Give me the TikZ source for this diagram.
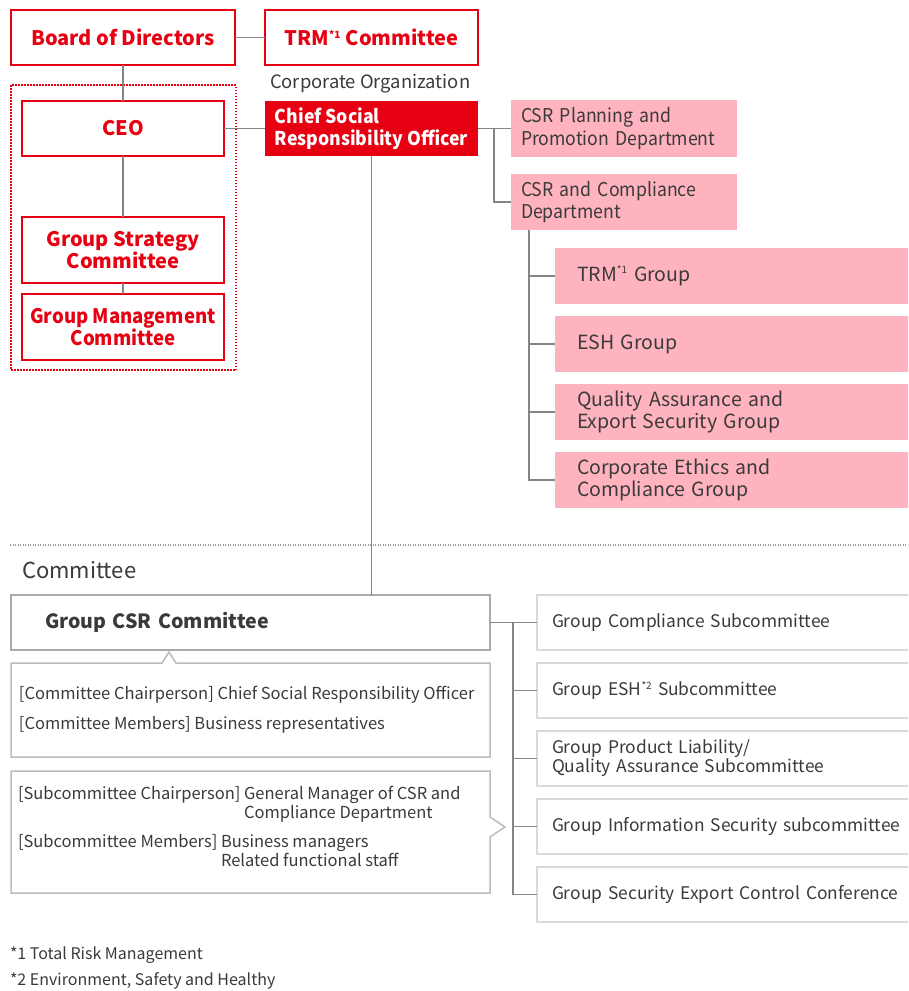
\documentclass[tikz,border=0pt]{standalone}
\usepackage{fontspec}
\setmainfont{Noto Sans CJK JP}
\newfontfamily\deptfont{Noto Sans CJK JP}[FakeStretch=0.93]
\usetikzlibrary{positioning}
\definecolor{csrred}{HTML}{E60012}
\definecolor{csrpink}{HTML}{FFB3BE}
\definecolor{csrtext}{HTML}{3A3A3A}
\definecolor{csrline}{HTML}{858585}
\definecolor{csrframe}{HTML}{AAAAAA}
\definecolor{csrlight}{HTML}{DADADA}
\hyphenpenalty=10000
\newcommand{\fs}[2]{\fontsize{#1}{#2}\selectfont}
\newcommand{\starnote}[1]{\textsuperscript{\fontsize{10}{10}\selectfont*#1}}

\begin{document}
\begin{tikzpicture}[x=1pt,y=-1pt,inner sep=0pt,outer sep=0pt,
                    line width=1.6pt,draw=csrline,text=csrtext]
  \tikzstyle{redbox}=[draw=csrred,line width=2.2pt,fill=white,text=csrred,
                      font=\bfseries\fs{20}{22},align=center,anchor=north west]
  \tikzstyle{officer}=[fill=csrred,text=white,font=\deptfont\bfseries\fs{19}{22},align=left,
                      anchor=north west]
  \tikzstyle{dept}=[fill=csrpink,font=\deptfont\fs{19}{22.5},align=left,anchor=north west,
                      inner xsep=10pt,text width=206pt]
  \tikzstyle{team}=[fill=csrpink,font=\fs{19.5}{22},align=left,anchor=north west,
                      inner xsep=22pt,text width=313pt,minimum height=56pt]
  \tikzstyle{subbox}=[draw=csrlight,line width=2pt,font=\fs{17.4}{19},align=left,
                      anchor=north west,inner xsep=15pt,text width=400pt,minimum height=55pt]
  \tikzstyle{link}=[draw=csrline,line width=1.6pt]
  \tikzstyle{note}=[font=\fs{16.5}{19},align=left,anchor=west]

  \useasboundingbox (0,0) rectangle (908,991);
  \clip (0,0) rectangle (908,991);

  \node[redbox,minimum width=224pt,minimum height=55pt] (board) at (11,10) {Board of Directors};
  \node[redbox,minimum width=213pt,minimum height=55pt] (trm)   at (265,10) {TRM\starnote{1} Committee};
  \node[redbox,minimum width=202pt,minimum height=55pt] (ceo)   at (22,101) {CEO};
  \node[redbox,minimum width=202pt,minimum height=66pt] (gsc)   at (22,217) {Group Strategy\\Committee};
  \node[redbox,minimum width=202pt,minimum height=66pt,font=\deptfont\bfseries\fs{20}{22}] (gmc) at (22,294) {Group Management\\Committee};
  \draw[csrred,line width=1.5pt,dash pattern=on 1.5pt off 1.5pt] (11,85) rectangle (236,370);

  \node[anchor=west,font=\fs{18.4}{20}] (corp) at (270,84) {Corporate Organization};
  \node[officer,minimum width=213pt,minimum height=55pt] (csro) at (265,101) {Chief Social\\Responsibility Officer};

  \node[dept,minimum height=57pt] (plan)  at (511,100) {CSR Planning and\\Promotion Department};
  \node[dept,minimum height=56pt] (compl) at (511,174) {CSR and Compliance\\Department};

  \node[team] (trmg)   at (555,248) {TRM\starnote{1} Group};
  \node[team] (eshg)   at (555,316) {ESH Group};
  \node[team] (qaesg)  at (555,384) {Quality Assurance and\\Export Security Group};
  \node[team] (ethics) at (555,452) {Corporate Ethics and\\Compliance Group};

  \draw[csrline!80,line width=1.2pt,dash pattern=on 1pt off 1.5pt] (10,545) -- (908,545);
  \node[anchor=west,font=\fs{22}{24}] (comlabel) at (22,570) {Committee};

  \node[draw=csrframe,line width=2.6pt,anchor=north west,inner xsep=34pt,text width=411pt,
        minimum height=55pt,font=\bfseries\fs{19.6}{22},align=left] (gcsr) at (11,595) {Group CSR Committee};

  \node[anchor=north west,minimum width=479pt,minimum height=94pt] (info) at (11,663) {};
  \node[anchor=north west,minimum width=479pt,minimum height=122pt] (subinfo) at (11,771) {};
  \draw[csrframe!80,line width=1.5pt] (info.north west) -- ++(151,0) -- ++(7,-11) -- ++(7,11)
        -- (info.north east) -- (info.south east) -- (info.south west) -- cycle;
  \draw[csrframe!80,line width=1.5pt] (subinfo.north west) -- (subinfo.north east) -- ++(0,46)
        -- ++(15,10) -- ++(-15,10) -- (subinfo.south east) -- (subinfo.south west) -- cycle;

  \node[note] (chair)   at (19,695) {[Committee Chairperson] Chief Social Responsibility Officer};
  \node[note] (members) at (19,725) {[Committee Members] Business representatives};
  \node[note,anchor=north west] (subchair) at (18,786)
        {[Subcommittee Chairperson] General Manager of CSR and\\\hphantom{[Subcommittee Chairperson] }Compliance Department};
  \node[note,anchor=north west] (submembers) at (18,834)
        {[Subcommittee Members] Business managers\\\hphantom{[Subcommittee Members] }Related functional staff};

  \node[subbox] (scomp) at (537,595) {Group Compliance Subcommittee};
  \node[subbox] (sesh)  at (537,663) {Group ESH\starnote{2} Subcommittee};
  \node[subbox] (spl)   at (537,731) {Group Product Liability/\\Quality Assurance Subcommittee};
  \node[subbox] (sinfo) at (537,799) {Group Information Security subcommittee};
  \node[subbox] (sexp)  at (537,867) {Group Security Export Control Conference};

  \node[anchor=west,font=\fs{16}{18}] (note1) at (10,955) {*1 Total Risk Management};
  \node[anchor=west,font=\fs{16}{18}] (note2) at (10,981) {*2 Environment, Safety and Healthy};

  \path[link] (board) edge (trm)
              (board) edge (ceo)
              (ceo) edge (gsc)
              (gsc) edge (gmc)
              (ceo) edge (csro)
              (csro) edge (plan);
  \draw[link] ([xshift=16pt]csro.east) |- (compl.west);
  \draw[link] (csro.south) -- (csro.south |- gcsr.north);
  \foreach \t in {trmg,eshg,qaesg,ethics}
    \draw[link] ([xshift=18pt]compl.south west) |- (\t.west);
  \foreach \s in {scomp,sesh,spl,sinfo,sexp}
    \draw[link] (gcsr.east) -- ++(23,0) |- (\s.west);
\end{tikzpicture}
\end{document}
